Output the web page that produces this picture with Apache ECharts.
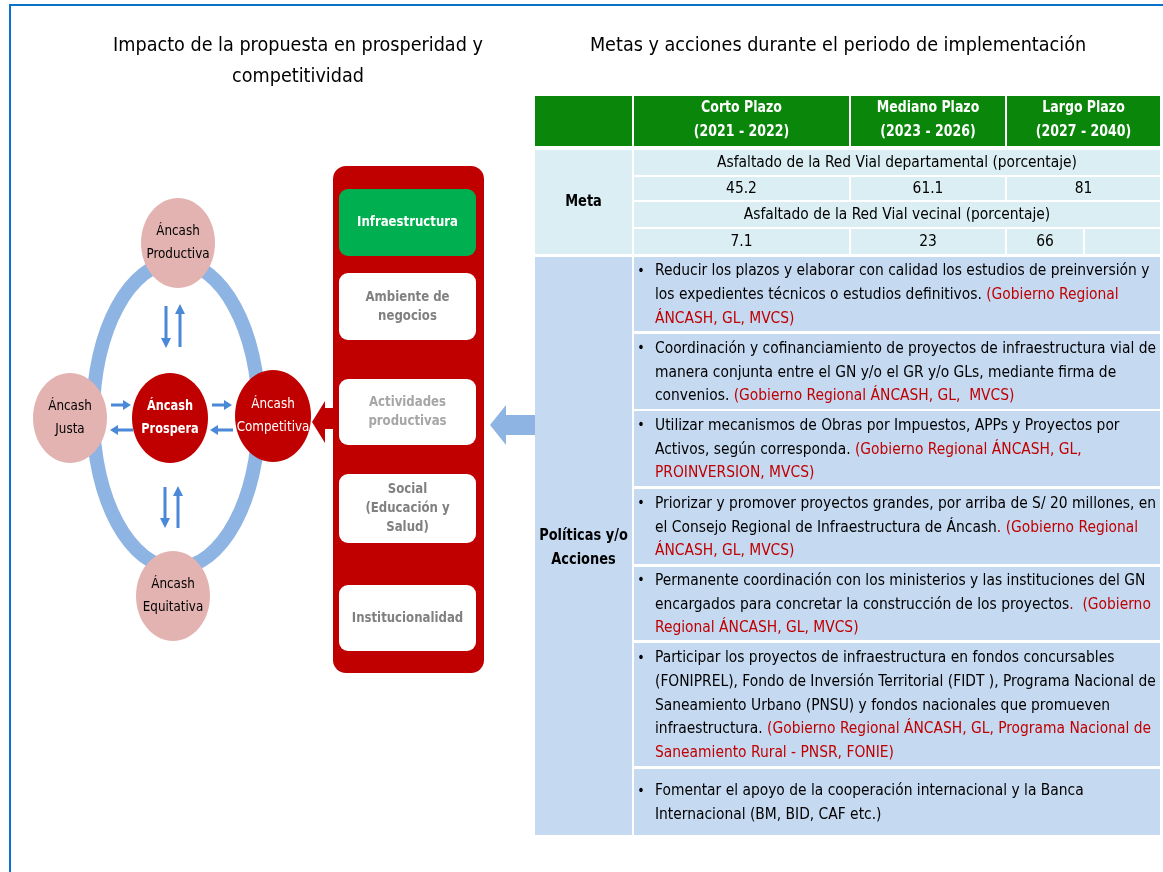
<!DOCTYPE html>
<html><head><meta charset="utf-8">
<script src="https://cdn.jsdelivr.net/npm/echarts@6/dist/echarts.min.js"></script>
<style>html,body{margin:0;padding:0;background:#fff}#c{width:1163px;height:872px}</style>
</head><body><div id="c"></div>
<script>
// ---------- DATA ----------
const leftTitle = ['Impacto de la propuesta en prosperidad y', 'competitividad'];
const rightTitle = 'Metas y acciones durante el periodo de implementación';
const periods = [['Corto Plazo', '(2021 - 2022)'], ['Mediano Plazo', '(2023 - 2026)'], ['Largo Plazo', '(2027 - 2040)']];
const metaLabel = 'Meta';
const indicators = ['Asfaltado de la Red Vial departamental (porcentaje)', 'Asfaltado de la Red Vial vecinal (porcentaje)'];
const deptValues = [45.2, 61.1, 81];
const vecinalValues = [7.1, 23, 66];
const actionsLabel = ['Políticas y/o', 'Acciones'];
// each line: [black text, red text]
const actions = [
  [['Reducir los plazos y elaborar con calidad los estudios de preinversión y', ''],
   ['los expedientes técnicos o estudios definitivos. ', '(Gobierno Regional'],
   ['', 'ÁNCASH, GL, MVCS)']],
  [['Coordinación y cofinanciamiento de proyectos de infraestructura vial de', ''],
   ['manera conjunta entre el GN y/o el GR y/o GLs, mediante firma de', ''],
   ['convenios. ', '(Gobierno Regional ÁNCASH, GL,  MVCS)']],
  [['Utilizar mecanismos de Obras por Impuestos, APPs y Proyectos por', ''],
   ['Activos, según corresponda. ', '(Gobierno Regional ÁNCASH, GL,'],
   ['', 'PROINVERSION, MVCS)']],
  [['Priorizar y promover proyectos grandes, por arriba de S/ 20 millones, en', ''],
   ['el Consejo Regional de Infraestructura de Áncash', '. (Gobierno Regional'],
   ['', 'ÁNCASH, GL, MVCS)']],
  [['Permanente coordinación con los ministerios y las instituciones del GN', ''],
   ['encargados para concretar la construcción de los proyectos', '.  (Gobierno'],
   ['', 'Regional ÁNCASH, GL, MVCS)']],
  [['Participar los proyectos de infraestructura en fondos concursables', ''],
   ['(FONIPREL), Fondo de Inversión Territorial (FIDT ), Programa Nacional de', ''],
   ['Saneamiento Urbano (PNSU) y fondos nacionales que promueven', ''],
   ['infraestructura. ', '(Gobierno Regional ÁNCASH, GL, Programa Nacional de'],
   ['', 'Saneamiento Rural - PNSR, FONIE)']],
  [['Fomentar el apoyo de la cooperación internacional y la Banca', ''],
   ['Internacional (BM, BID, CAF etc.)', '']]
];
const panelItems = ['Infraestructura', 'Ambiente de\nnegocios', 'Actividades\nproductivas', 'Social\n(Educación y\nSalud)', 'Institucionalidad'];
const nodeProductiva = 'Áncash\nProductiva';
const nodeJusta = 'Áncash\nJusta';
const nodeProspera = 'Áncash\nProspera';
const nodeCompetitiva = 'Áncash\nCompetitiva';
const nodeEquitativa = 'Áncash\nEquitativa';

// ---------- LAYOUT / STYLE ----------
const FF = "'Liberation Sans Narrow','DejaVu Sans Condensed','Arial Narrow',sans-serif";
const RED = '#C00000', PINK = '#E3B3B1', RING = '#8EB4E3', ARROW = '#4A88D8';
const GREEN_H = '#0A870A', GREEN_B = '#00B050', META_BG = '#DAEEF3', ACT_BG = '#C5D9F1';
const TS = 15.4; // table text size
const BX = 0.9;  // horizontal squeeze for bold labels
const els = [];
function rect(x, y, w, h, fill, r) { els.push({type: 'rect', shape: {x, y, width: w, height: h, r: r || 0}, style: {fill}, silent: true}); }
function txt(x, y, text, o) {
  o = o || {};
  const el = {type: 'text', x, y, silent: true, z: 10, style: Object.assign({
    text, fill: o.fill || '#000', fontSize: o.size || TS, fontFamily: FF, fontWeight: o.weight || 'normal',
    align: o.align || 'center', verticalAlign: o.va || 'middle', textAlign: o.align || 'center', textVerticalAlign: o.va || 'middle',
    lineHeight: o.lh || Math.round((o.size || TS) * 1.25)
  }, o.extra || {})};
  if (o.sx) { el.scaleX = o.sx; el.originX = 0; el.originY = 0; }
  els.push(el);
}
function ell(cx, cy, rx, ry, fill, stroke, lw) {
  els.push({type: 'ellipse', shape: {cx, cy, rx, ry}, silent: true, z: stroke ? 1 : 3,
    style: {fill: fill || 'none', stroke: stroke || 'none', lineWidth: lw || 0}});
}
function arrow(x1, y1, x2, y2, color, sw, hw, hl) {
  const dx = x2 - x1, dy = y2 - y1, L = Math.hypot(dx, dy), ux = dx / L, uy = dy / L, px = -uy, py = ux;
  const bx = x2 - ux * hl, by = y2 - uy * hl;
  const pts = [
    [x1 + px * sw / 2, y1 + py * sw / 2], [bx + px * sw / 2, by + py * sw / 2], [bx + px * hw / 2, by + py * hw / 2],
    [x2, y2], [bx - px * hw / 2, by - py * hw / 2], [bx - px * sw / 2, by - py * sw / 2], [x1 - px * sw / 2, y1 - py * sw / 2]
  ];
  els.push({type: 'polygon', shape: {points: pts}, style: {fill: color}, silent: true, z: 4});
}

// frame
rect(9, 4, 1160, 2, '#0B72C9');
rect(9, 4, 2, 870, '#0B72C9');

// titles
txt(298, 46, leftTitle[0], {size: 19.6});
txt(298, 77, leftTitle[1], {size: 19.6});
txt(838, 46, rightTitle, {size: 19.6});

// ---- diagram ----
const NS = 13.3, NLH = 23;
ell(176, 415, 83, 153, null, RING, 14);
ell(178, 243, 37, 45, PINK); txt(178, 243, nodeProductiva, {size: NS, lh: NLH});
ell(70, 418, 37, 45, PINK); txt(70, 418, nodeJusta, {size: NS, lh: NLH});
ell(170, 418, 38, 45, RED); txt(170, 418, nodeProspera, {size: 14, lh: NLH, fill: '#fff', weight: 'bold', sx: BX});
ell(273, 416, 38, 46, RED); txt(273, 416, nodeCompetitiva, {size: NS, lh: NLH, fill: '#fff'});
ell(173, 596, 37, 45, PINK); txt(173, 596, nodeEquitativa, {size: NS, lh: NLH});
arrow(111, 405, 131, 405, ARROW, 3, 10, 8);
arrow(133, 430, 110, 430, ARROW, 3, 10, 8);
arrow(212, 405, 232, 405, ARROW, 3, 10, 8);
arrow(233, 430, 210, 430, ARROW, 3, 10, 8);
arrow(166, 306, 166, 348, ARROW, 3, 10, 10);
arrow(180, 347, 180, 304, ARROW, 3, 10, 10);
arrow(165, 487, 165, 528, ARROW, 3, 10, 10);
arrow(178, 528, 178, 486, ARROW, 3, 10, 10);

// red panel
rect(333, 166, 151, 507, RED, 13);
const boxY = [189, 273, 379, 474, 585], boxH = [67, 67, 66, 69, 66];
const boxFill = [GREEN_B, '#fff', '#fff', '#fff', '#fff'];
const boxText = ['#fff', '#808080', '#A6A6A6', '#808080', '#808080'];
panelItems.forEach((t, i) => {
  rect(339, boxY[i], 137, boxH[i], boxFill[i], 9);
  txt(407.5, boxY[i] + boxH[i] / 2, t, {size: 14.5, lh: 19, weight: 'bold', fill: boxText[i], sx: BX});
});
// red arrow to Competitiva
els.push({type: 'polygon', silent: true, z: 4, style: {fill: RED}, shape: {points: [[334, 408], [325, 408], [325, 401], [312, 422], [325, 443], [325, 429], [334, 429]]}});
// blue arrow from table
els.push({type: 'polygon', silent: true, z: 4, style: {fill: RING}, shape: {points: [[535, 415], [506, 415], [506, 405], [490, 425], [506, 445], [506, 435], [535, 435]]}});

// ---- table ----
const cx = [535, 634, 851, 1007], cw = [97, 215, 154, 153];
rect(cx[0], 96, cw[0], 50, GREEN_H);
periods.forEach((p, i) => {
  rect(cx[i + 1], 96, cw[i + 1], 50, GREEN_H);
  txt(cx[i + 1] + cw[i + 1] / 2, 108, p[0], {size: 15.5, weight: 'bold', fill: '#fff', sx: BX});
  txt(cx[i + 1] + cw[i + 1] / 2, 132, p[1], {size: 15.5, weight: 'bold', fill: '#fff', sx: BX});
});
// meta
rect(535, 150, 97, 104, META_BG);
txt(583.5, 202, metaLabel, {size: 16, weight: 'bold', sx: BX});
const metaRows = [[150, 25], [177, 23], [202, 25], [229, 25]];
[[indicators[0], deptValues], [indicators[1], vecinalValues]].forEach((pair, k) => {
  const r1 = metaRows[k * 2], r2 = metaRows[k * 2 + 1];
  rect(634, r1[0], 526, r1[1], META_BG);
  txt(897, r1[0] + r1[1] / 2 + 0.5, pair[0]);
  if (k === 0) {
    pair[1].forEach((v, i) => {
      rect(cx[i + 1], r2[0], cw[i + 1], r2[1], META_BG);
      txt(cx[i + 1] + cw[i + 1] / 2, r2[0] + r2[1] / 2 + 0.5, String(v));
    });
  } else {
    const sx = [634, 851, 1007, 1085], sw = [215, 154, 76, 75];
    sx.forEach((x, i) => {
      rect(x, r2[0], sw[i], r2[1], META_BG);
      if (i < pair[1].length) txt(x + sw[i] / 2, r2[0] + r2[1] / 2 + 0.5, String(pair[1][i]));
    });
  }
});
// actions
rect(535, 257, 97, 578, ACT_BG);
txt(583.5, 548, actionsLabel.join('\n'), {size: 16, weight: 'bold', lh: 24, sx: BX});
const rowTop = [257, 334, 411, 489, 567, 643, 769], rowH = [74, 75, 75, 75, 73, 123, 66];
const LH = 23.7;
actions.forEach((lines, i) => {
  rect(634, rowTop[i], 526, rowH[i], ACT_BG);
  const cy = rowTop[i] + rowH[i] / 2 + 1;
  const text = lines.map(l => (l[0] ? '{b|' + l[0] + '}' : '') + (l[1] ? '{r|' + l[1] + '}' : '')).join('\n');
  txt(655, cy, text, {align: 'left', lh: LH, extra: {rich: {
    b: {fill: '#000', fontSize: TS, fontFamily: FF, lineHeight: LH},
    r: {fill: '#C00000', fontSize: TS, fontFamily: FF, lineHeight: LH}
  }}});
  txt(641, cy - (lines.length - 1) * LH / 2, '•', {size: 14});
});

const chart = echarts.init(document.getElementById('c'), null, {renderer: 'canvas'});
chart.setOption({animation: false, graphic: {elements: els}});
</script></body></html>
